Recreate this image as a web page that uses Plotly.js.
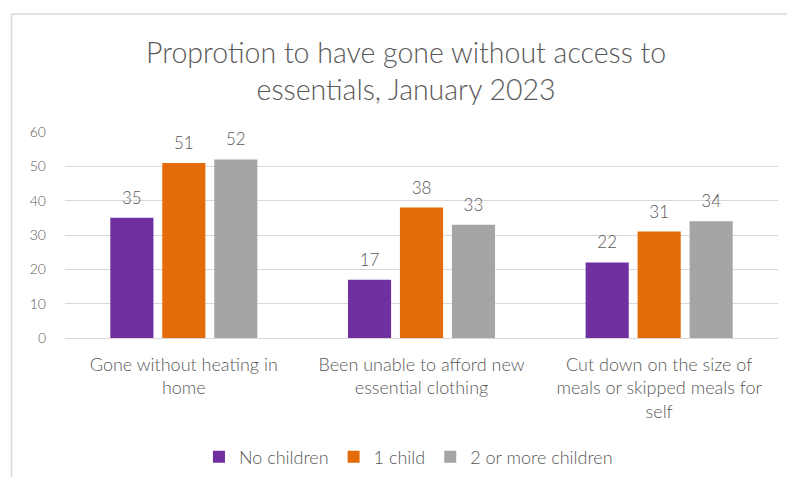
<!DOCTYPE html>
<html><head><meta charset="utf-8">
<script src="https://cdn.plot.ly/plotly-3.0.1.min.js"></script>
<style>html,body{margin:0;padding:0;background:#fff;}#chart{width:787px;height:477px;}</style>
</head><body><div id="chart"></div>
<script>
const categories = [
  "Gone without heating in<br>home",
  "Been unable to afford new<br>essential clothing",
  "Cut down on the size of<br>meals or skipped meals for<br>self"
];
const seriesNames = ["No children", "1 child", "2 or more children"];
const noChildren = [35, 17, 22];
const oneChild = [51, 38, 31];
const twoOrMore = [52, 33, 34];
const colors = ["#7030A0", "#E36C09", "#A5A5A5"];
const yTicks = [0, 10, 20, 30, 40, 50, 60];

const values = [noChildren, oneChild, twoOrMore];
const FONT = "Lato, 'Open Sans', sans-serif";
const TXT = "#595959";

const traces = [];
values.forEach((v, i) => {
  traces.push({
    type: "bar", x: categories, y: v, name: seriesNames[i],
    marker: {color: colors[i]}, offsetgroup: String(i), hoverinfo: "skip"
  });
});
values.forEach((v, i) => {
  traces.push({
    type: "scatter", mode: "markers+text", x: categories, y: v,
    text: v.map(String), textposition: "top center",
    textfont: {family: FONT, size: 17, color: TXT, weight: 300},
    marker: {size: 14, opacity: 0, color: colors[i]},
    offsetgroup: String(i), showlegend: false, hoverinfo: "skip", cliponaxis: false
  });
});

const layout = {
  width: 787, height: 477,
  margin: {l: 65, r: 9, t: 132, b: 139},
  paper_bgcolor: "#fff", plot_bgcolor: "#fff",
  font: {family: FONT, color: TXT},
  title: {
    text: "Proprotion to have gone without access to<br>essentials, January 2023",
    font: {family: FONT, size: 28.5, color: TXT, weight: 300},
    x: 0.516, xanchor: "center", y: 0.868, yanchor: "middle"
  },
  barmode: "group", bargap: 0.344, bargroupgap: 0.17,
  scattermode: "group", scattergap: 0.344,
  showlegend: true,
  legend: {orientation: "h", xref: "container", yref: "container", x: 0.519, xanchor: "center",
           y: 0.042, yanchor: "middle",
           font: {family: FONT, size: 18, color: TXT, weight: 300}, traceorder: "normal", itemwidth: 30},
  xaxis: {type: "category", tickfont: {family: FONT, size: 18, color: TXT, weight: 300},
          showgrid: false, showline: false, ticks: "", fixedrange: true, ticklabelstandoff: 14,
          automargin: false},
  yaxis: {range: [0, 60], tickvals: yTicks, ticktext: yTicks.map(String),
          tickfont: {family: FONT, size: 14, color: TXT, weight: 300},
          gridcolor: "#D9D9D9", gridwidth: 1, zeroline: true, zerolinecolor: "#D9D9D9",
          showline: false, ticks: "", ticklabelstandoff: 18, fixedrange: true, automargin: false},
  shapes: [
    {type: "line", xref: "paper", yref: "paper", x0: -0.075, x1: 1.02, y0: 1.573, y1: 1.573,
     line: {color: "#D9D9D9", width: 1.5}},
    {type: "line", xref: "paper", yref: "paper", x0: -0.075, x1: -0.075, y0: 1.573, y1: -0.7,
     line: {color: "#D9D9D9", width: 1.5}}
  ]
};
Plotly.newPlot("chart", traces, layout, {displayModeBar: false, staticPlot: true});
</script></body></html>
